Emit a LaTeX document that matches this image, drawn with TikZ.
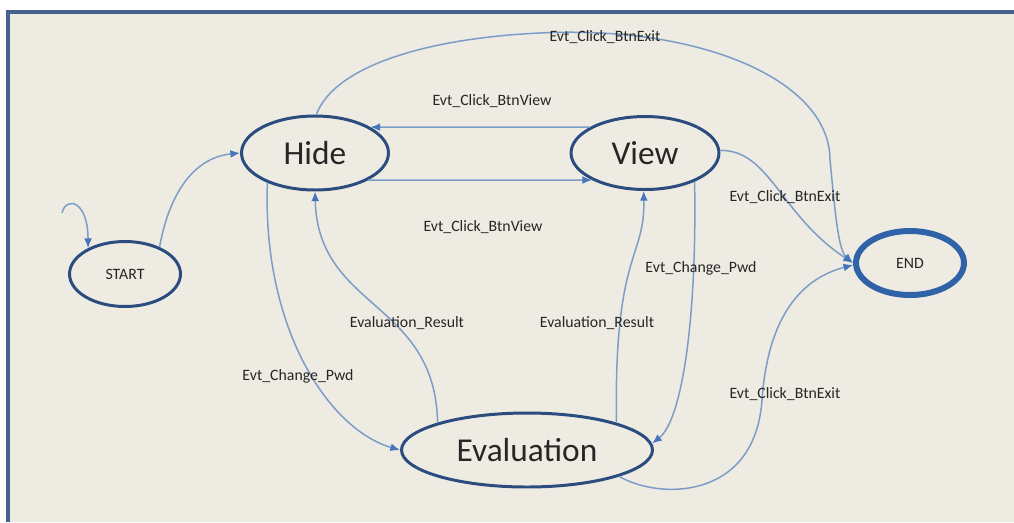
\documentclass[tikz,border=0pt]{standalone}
\usepackage{fontspec}
\setmainfont{Carlito}
\usetikzlibrary{shapes.geometric}
\usetikzlibrary{arrows.meta}
\definecolor{paper}{HTML}{EEEBE2}
\definecolor{framec}{HTML}{45638E}
\definecolor{ringc}{HTML}{2B4C7E}
\definecolor{endc}{HTML}{2F62A6}
\definecolor{edgec}{HTML}{7C9DC8}
\definecolor{tipc}{HTML}{4575BD}
\tikzset{state/.style = {ellipse, draw=ringc, line width=1.7pt, inner sep=0pt,
                         text=black!85, font=\fontsize{19}{22}\selectfont}}
\tikzset{small/.style = {font=\fontsize{9}{10}\selectfont}}
\tikzset{trans/.style = {draw=edgec, line width=0.85pt,
                         -{Latex[length=5.5pt,width=4.5pt,color=tipc]}}}
\tikzset{evt/.style = {small, text=black!85, inner sep=0pt}}

\begin{document}
\begin{tikzpicture}[x=0.02cm, y=-0.02cm]
      \useasboundingbox (0,0) rectangle (1014,522);
      \fill[white] (0,0) rectangle (1014,522);
      \fill[paper] (8,12) rectangle (1014,522);
      \draw[framec, line width=2pt] (8,522) -- (8,12) -- (1014,12);

      \node[state, small, minimum width=2.22cm, minimum height=1.30cm] (start) at (125,274) {START};
      \node[state, minimum width=2.94cm, minimum height=1.48cm] (hide) at (315,153) {Hide};
      \node[state, minimum width=2.96cm, minimum height=1.46cm] (view) at (645,153) {View};
      \node[state, minimum width=5.02cm, minimum height=1.48cm] (eval) at (527,450) {Evaluation};
      \node[state, small, draw=endc, line width=3.4pt, minimum width=2.16cm, minimum height=1.28cm] (end) at (910,263) {END};
      \coordinate (init) at (62,213);

      \draw[trans] (init) .. controls (66,196) and (88,200) .. (start.145);
      \draw[trans] (start.38) .. controls (168,200) and (190,158) .. (hide.180);
      \draw[trans] (hide.-27) -- (view.-153);
      \draw[trans] (view.155) -- (hide.25);
      \draw[trans] (hide.88) .. controls (335,65) and (430,38) .. (540,33)
                   .. controls (700,25) and (830,80) .. (830,160)
                   .. controls (835,210) and (838,250) .. (end.180);
      \draw[trans] (view.2) .. controls (770,150) and (780,215) .. (end.180);
      \draw[trans] (hide.-148) .. controls (262,330) and (330,430) .. (eval.180);
      \draw[trans] (eval.163) .. controls (435,300) and (318,310) .. (hide.-90);
      \draw[trans] (eval.17) .. controls (614,250) and (645,260) .. (view.-92);
      \draw[trans] (view.-30) .. controls (697,320) and (682,420) .. (eval.3);
      \draw[trans] (eval.-16) .. controls (660,500) and (755,500) .. (762,400)
                   .. controls (769,300) and (815,275) .. (end.182);

      \node[evt] (exitTop) at (605,37) {Evt\_Click\_BtnExit};
      \node[evt] (viewTop) at (492,101) {Evt\_Click\_BtnView};
      \node[evt] (viewLow) at (483,227) {Evt\_Click\_BtnView};
      \node[evt] (exitMid) at (785,197) {Evt\_Click\_BtnExit};
      \node[evt] (resLeft) at (407,323) {Evaluation\_Result};
      \node[evt] (pwdLeft) at (298,376) {Evt\_Change\_Pwd};
      \node[evt] (resRight) at (597,323) {Evaluation\_Result};
      \node[evt] (pwdRight) at (701,268) {Evt\_Change\_Pwd};
      \node[evt] (exitLow) at (785,394) {Evt\_Click\_BtnExit};
    \end{tikzpicture}
\end{document}
